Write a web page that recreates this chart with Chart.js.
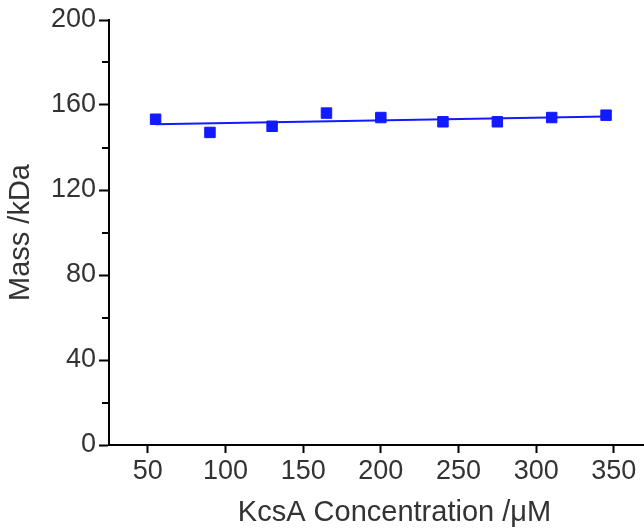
<!DOCTYPE html>
<html>
<head>
<meta charset="utf-8">
<script src="https://cdn.jsdelivr.net/npm/chart.js@4/dist/chart.umd.min.js"></script>
<style>
  html, body { margin: 0; background: #fff; overflow: hidden; }
  canvas { display: block; }
</style>
</head>
<body>
<!-- the plot runs past the right edge of the window, as in the cropped original -->
<canvas id="massChart" width="680" height="532"></canvas>
<script>
// Measured points (concentration in uM, mass in kDa)
const concentrations = [55, 90, 130, 165, 200, 240, 275, 310, 345];
const masses = [153.3, 147.1, 150.0, 156.2, 154.1, 152.1, 152.1, 154.1, 155.2];

// Linear fit line at its two ends
const fitX = [55, 345];
const fitY = [150.9, 154.6];

const xTicks = [50, 100, 150, 200, 250, 300, 350];
const yTicks = [0, 40, 80, 120, 160, 200];
const yMinorTicks = [20, 60, 100, 140, 180];

const blue = 'rgb(18, 26, 255)';
const font = 'Liberation Sans, Arial, Helvetica, sans-serif';

// draws the short minor ticks on the y axis
const minorTicks = {
  id: 'minorTicks',
  afterDraw(chart) {
    const ctx = chart.ctx;
    const y = chart.scales.y;
    ctx.save();
    ctx.strokeStyle = '#000';
    ctx.lineWidth = 2;
    yMinorTicks.forEach(v => {
      const py = Math.round(y.getPixelForValue(v));
      ctx.beginPath();
      ctx.moveTo(y.right - 7, py);
      ctx.lineTo(y.right, py);
      ctx.stroke();
    });
    ctx.restore();
  }
};

const ctx = document.getElementById('massChart').getContext('2d');
new Chart(ctx, {
  type: 'scatter',
  data: {
    datasets: [
      {
        label: 'Mass',
        data: concentrations.map((c, i) => ({ x: c, y: masses[i] })),
        pointStyle: 'rect',
        pointRadius: 7.4,
        pointBorderWidth: 1,
        backgroundColor: blue,
        borderColor: blue
      },
      {
        label: 'Fit',
        data: fitX.map((c, i) => ({ x: c, y: fitY[i] })),
        showLine: true,
        pointRadius: 0,
        borderColor: blue,
        borderWidth: 2
      }
    ]
  },
  options: {
    responsive: false,
    animation: false,
    layout: { autoPadding: false, padding: { top: 20, right: 0, left: 0, bottom: 0 } },
    plugins: {
      legend: { display: false },
      tooltip: { enabled: false }
    },
    scales: {
      x: {
        type: 'linear',
        min: 25,
        max: 392.6,
        afterBuildTicks: s => { s.ticks = xTicks.map(v => ({ value: v })); },
        afterFit: s => { s.height = 87; },
        grid: { drawOnChartArea: false, tickLength: 8, tickWidth: 2, tickColor: '#000' },
        border: { color: '#000', width: 2 },
        ticks: { color: '#333', font: { family: font, size: 27 }, padding: 2, maxRotation: 0 },
        title: {
          display: true,
          text: 'KcsA Concentration /μM',
          color: '#333',
          font: { family: font, size: 29 },
          padding: { top: 4, bottom: 2 }
        }
      },
      y: {
        min: 0,
        max: 200,
        afterBuildTicks: s => { s.ticks = yTicks.map(v => ({ value: v })); },
        afterFit: s => { s.width = 109; },
        grid: { drawOnChartArea: false, tickLength: 10, tickWidth: 2, tickColor: '#000' },
        border: { color: '#000', width: 2 },
        ticks: { color: '#333', font: { family: font, size: 27 }, padding: 3 },
        title: {
          display: true,
          text: 'Mass /kDa',
          color: '#333',
          font: { family: font, size: 29 },
          padding: { top: 4, bottom: 8 }
        }
      }
    }
  },
  plugins: [minorTicks]
});
</script>
</body>
</html>
